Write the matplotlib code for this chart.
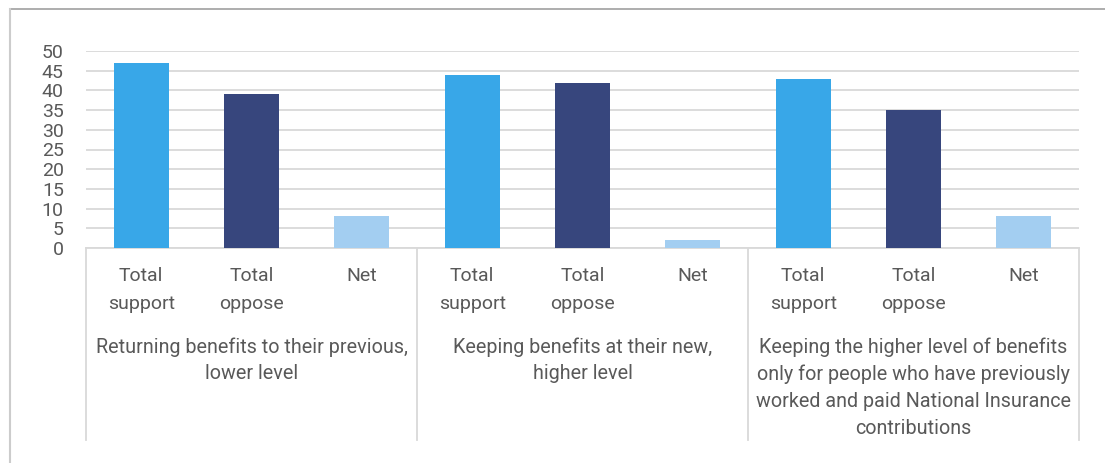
import matplotlib
matplotlib.use("Agg")
import matplotlib.pyplot as plt
from matplotlib.lines import Line2D
import matplotlib.transforms as mtransforms

plt.rcParams['font.family'] = ['Roboto', 'DejaVu Sans']

groups = [
    "Returning benefits to their previous,\nlower level",
    "Keeping benefits at their new,\nhigher level",
    "Keeping the higher level of benefits\nonly for people who have previously\nworked and paid National Insurance\ncontributions",
]
subcats = ["Total\nsupport", "Total\noppose", "Net"]
values = [47, 39, 8, 44, 42, 2, 43, 35, 8]
colors = ["#38A7E8", "#37467D", "#A3CEF1"]
yticks = [0, 5, 10, 15, 20, 25, 30, 35, 40, 45, 50]

W, H = 1105, 463
fig = plt.figure(figsize=(W / 100, H / 100), dpi=100)
ax = fig.add_axes([86 / W, (H - 248) / H, (1079 - 86) / W, (248 - 51) / H])

xs = list(range(len(values)))
bar_colors = [colors[i % 3] for i in xs]
ax.bar(xs, values, width=0.5, color=bar_colors, zorder=3)

ax.set_xlim(-0.5, len(values) - 0.5)
ax.set_ylim(0, 50)
ax.set_yticks(yticks)
ax.yaxis.grid(True, color="#D9D9D9", linewidth=1.3, zorder=0)
ax.set_axisbelow(True)
for s in ["top", "right", "left"]:
    ax.spines[s].set_visible(False)
ax.spines["bottom"].set_color("#D9D9D9")
ax.spines["bottom"].set_linewidth(1.3)
ax.tick_params(axis="y", length=0, pad=16, labelsize=14, labelcolor="#595959")
ax.tick_params(axis="x", length=0, labelbottom=False)

trans = mtransforms.blended_transform_factory(ax.transData, ax.transAxes)
px = 1.0 / (248 - 51)  # axes fraction per pixel

# group separators
for b in [-0.5, 2.5, 5.5, 8.5]:
    ax.add_line(Line2D([b, b], [0, -(440 - 248) * px], transform=trans,
                       color="#D9D9D9", linewidth=1.3, clip_on=False))

# sub-category labels
for i in xs:
    ax.text(i, -(267 - 248) * px, subcats[i % 3], transform=trans,
            ha="center", va="top", fontsize=14, color="#595959",
            linespacing=1.68)

# group labels
for g, label in enumerate(groups):
    ax.text(3 * g + 1, -(337 - 248) * px, label, transform=trans,
            ha="center", va="top", fontsize=14.2, color="#595959",
            linespacing=1.53)

# outer frame lines
fig.add_artist(Line2D([10 / W, 1.0], [1 - 9 / H, 1 - 9 / H], transform=fig.transFigure,
                      color="#A0A0A0", linewidth=1.2))
fig.add_artist(Line2D([10 / W, 10 / W], [0, 1 - 9 / H], transform=fig.transFigure,
                      color="#CCCCCC", linewidth=1.5))

fig.savefig("out.png", dpi=100, facecolor="white")
